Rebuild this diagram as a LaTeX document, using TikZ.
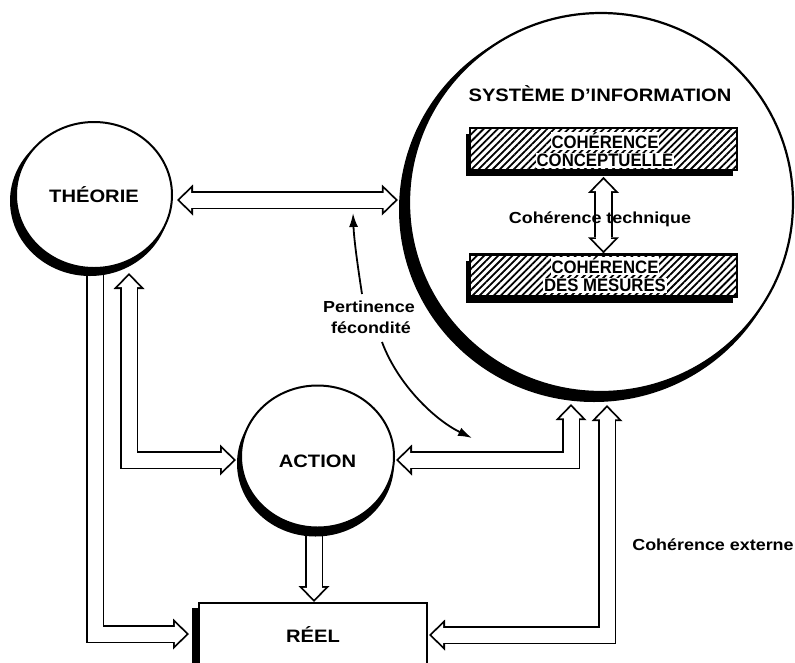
\documentclass[tikz,border=0pt]{standalone}
\usepackage{fontspec}
\setmainfont{Liberation Sans}
\newfontfamily\headfont[FakeStretch=1.12]{Liberation Sans}
\newfontfamily\cellfont[FakeStretch=0.93]{Liberation Sans}
\newcommand\bigtitle{\headfont\bfseries\fontsize{18}{21}\selectfont}
\newcommand\smalltitle{\headfont\bfseries\fontsize{16}{21}\selectfont}
\newcommand\celltitle{\cellfont\bfseries\fontsize{18}{21}\selectfont}
\usetikzlibrary{arrows.meta,shapes.geometric,patterns.meta,calc}
\pgfdeclarelayer{arrowlayer}
\pgfdeclarelayer{shadowlayer}
\pgfsetlayers{arrowlayer,shadowlayer,main}
\tikzset{
  BigOut/.tip={Triangle[width=31pt,length=16pt,line width=0pt]},
  BigIn/.tip={Triangle[width=22.5pt,length=11.6pt,line width=0pt]},
  blkout/.style={draw=black,line width=18.6pt,line join=miter,line cap=butt},
  blkin/.style={draw=white,line width=15pt,line join=miter,line cap=butt},
  bubble/.style={ellipse,draw,line width=2pt,fill=white,inner sep=0pt,font=\bigtitle,text depth=0pt},
  hatchbox/.style={rectangle,draw,line width=2.4pt,inner sep=0pt,minimum width=267pt,minimum height=42pt,
    preaction={fill=black,transform canvas={shift={(-4pt,-6pt)}}},
    preaction={fill=white},pattern={Lines[angle=45,distance=5pt,line width=1.8pt]}},
  celltext/.style={fill=white,inner sep=1pt,anchor=base,font=\celltitle},
  heading/.style={anchor=base,inner sep=0pt,font=\bigtitle},
  note/.style={anchor=base,inner sep=0pt,font=\smalltitle},
  thinarr/.style={line width=1.8pt,-{Latex[length=14pt,width=9pt]}},
}
% hollow block arrows: a black band with a white core laid over it
\newcommand\twoway[1]{%
  \draw[blkout,BigOut-BigOut] #1;
  \draw[blkin,BigIn-BigIn,shorten <=2.6pt,shorten >=2.6pt] #1;}
\newcommand\oneway[1]{%
  \draw[blkout,-BigOut] #1;
  \draw[blkin,-BigIn,shorten >=2.6pt] #1;}
\begin{document}
\begin{tikzpicture}[x=1pt,y=-1pt]
\useasboundingbox (0,0) rectangle (795,662);

% information system
\node[bubble,line width=2.2pt,minimum width=384pt,minimum height=379pt] (SI) at (601,202.5) {};
\node[heading] (SIT) at (600,101) {SYSTÈME D’INFORMATION};
\node[hatchbox] (CC) at (603.5,149) {};
\node[hatchbox] (CM) at (603.5,275.5) {};
\node[celltext] (CC1) at (605,148.5) {COHÉRENCE};
\node[celltext] (CC2) at (605,166.5) {CONCEPTUELLE};
\node[celltext] (CM1) at (605,273.5) {COHÉRENCE};
\node[celltext] (CM2) at (605,291.5) {DES MESURES};
\twoway{($(CC.south)+(0,6)$) -- (CM.north)}
\node[note] (CT) at (600,223) {Cohérence technique};

% theory, action, reality
\node[bubble,minimum width=156pt,minimum height=146pt] (THEO) at (94,195) {THÉORIE};
\node[bubble,minimum width=153pt,minimum height=142pt,text height=21pt] (ACT) at (317.5,456.5) {ACTION};
\node[draw,line width=2pt,fill=white,minimum width=228pt,minimum height=68pt,inner sep=0pt,
      font=\bigtitle,text height=10pt,text depth=0pt] (REEL) at (313,637) {RÉEL};

\node[note] (PF1) at (369,312) {Pertinence};
\node[note] (PF2) at (371,333) {fécondité};
\node[note] (CE) at (713,550) {Cohérence externe};

% drop shadows
\begin{pgfonlayer}{shadowlayer}
  \fill ($(SI.center)+(-7,7)$) ellipse [x radius=195pt, y radius=192.5pt];
  \fill ($(THEO.center)+(-4,6)$) ellipse [x radius=80pt, y radius=75pt];
  \fill ($(ACT.center)+(-2,7)$) ellipse [x radius=78.5pt, y radius=73pt];
  \fill ($(REEL.north west)+(-6,6)$) rectangle ($(REEL.south east)+(-6,6)$);
\end{pgfonlayer}

% block arrows
\begin{pgfonlayer}{arrowlayer}
  \coordinate (ts1) at ($(THEO.east)+(4,5)$);
  \coordinate (ts2) at ($(SI.west)+(-10,0)$);
  \twoway{(ts1) -- (ts1 -| ts2)}
  \oneway{($(THEO.south)+(1,0)$) |- ($(REEL.north west)+(-9,32)$)}
  \twoway{($(THEO.south)+(35,4)$) |- ($(ACT.west)+(-4,3.5)$)}
  \coordinate (ar1) at ($(ACT.south)+(-3.5,0)$);
  \oneway{(ar1) -- (ar1 |- REEL.north)}
  \twoway{($(SI.south)+(-30,11)$) |- ($(ACT.east)+(1,3.5)$)}
  \twoway{($(SI.south)+(6,12)$) |- ($(REEL.north east)+(1,33)$)}
\end{pgfonlayer}

% relevance arrows
\coordinate (pfA) at (362,294);
\coordinate (pfB) at (353,213);
\coordinate (pfC) at (382,342);
\coordinate (pfD) at (472,438);
\draw[thinarr] (pfA) .. controls (358,268) and (354,240) .. (pfB);
\draw[thinarr] (pfC) .. controls (398,385) and (435,420) .. (pfD);
\end{tikzpicture}
\end{document}
